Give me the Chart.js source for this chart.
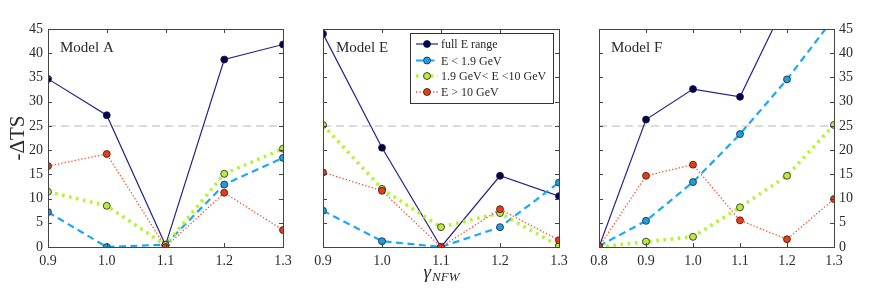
<!DOCTYPE html>
<html>
<head>
<meta charset="utf-8">
<script src="https://cdn.jsdelivr.net/npm/chart.js@4.4.1/dist/chart.umd.min.js"></script>
<style>
  body { margin: 0; background: #fff; }
  #wrap { position: relative; width: 872px; height: 291px; }
  #wrap canvas { position: absolute; left: 0; top: 0; }
</style>
</head>
<body>
<div id="wrap">
  <canvas id="chartA" width="872" height="291"></canvas>
  <canvas id="chartE" width="872" height="291"></canvas>
  <canvas id="chartF" width="872" height="291"></canvas>
</div>
<script>
// gamma_NFW values
const gammaAE = [0.9, 1.0, 1.1, 1.2, 1.3];
const gammaF = [0.8, 0.9, 1.0, 1.1, 1.2, 1.3];

// -ΔTS, Model A
const aFull = [34.7, 27.2, 0.4, 38.7, 41.8];
const aLow  = [7.2, 0.0, 0.5, 12.9, 18.4];
const aMid  = [11.4, 8.5, 0.4, 15.1, 20.3];
const aHigh = [16.7, 19.2, 0.0, 11.2, 3.5];

// Model E
const eFull = [44.0, 20.5, 0.0, 14.7, 10.5];
const eLow  = [7.5, 1.2, 0.0, 4.1, 13.3];
const eMid  = [25.2, 12.0, 4.1, 7.0, 0.2];
const eHigh = [15.4, 11.6, 0.0, 7.8, 1.4];

// Model F (last full points are above the plot)
const fFull = [0.0, 26.3, 32.6, 31.0, 51.0, 62.0];
const fLow  = [0.2, 5.4, 13.4, 23.3, 34.6, 47.3];
const fMid  = [0.0, 1.1, 2.1, 8.2, 14.7, 25.2];
const fHigh = [0.0, 14.7, 17.0, 5.5, 1.6, 9.9];

const yTicks = [0, 5, 10, 15, 20, 25, 30, 35, 40, 45];
const threshold = 25;

const seriesNames = ['full E range', 'E < 1.9 GeV', '1.9 GeV< E <10 GeV', 'E > 10 GeV'];

const FONT = '"Liberation Serif", "DejaVu Serif", serif';
const TXT = '#2a2a2a';

const styles = [
  { line: 'rgb(35,35,140)', fill: '#000058', width: 1.2, dash: [], order: 4 },
  { line: '#1aaaf5', fill: '#1e9de0', width: 2.2, dash: [7, 4.5], order: 3 },
  { line: '#b4f52a', fill: '#b8ec3c', width: 3.6, dash: [2.6, 4.6], order: 2 },
  { line: '#ff4a28', fill: '#ee3a10', width: 1.3, dash: [1.3, 2.1], order: 1 }
];

function makeSets(xs, lists) {
  return lists.map((vals, i) => ({
    label: seriesNames[i],
    data: vals.map((v, j) => ({ x: xs[j], y: v })),
    borderColor: styles[i].line,
    borderWidth: styles[i].width,
    borderDash: styles[i].dash,
    backgroundColor: styles[i].fill,
    pointBackgroundColor: styles[i].fill,
    pointBorderColor: '#222',
    pointBorderWidth: 0.8,
    pointRadius: 3.5,
    tension: 0,
    clip: 0,
    order: styles[i].order
  }));
}

// frame, inward ticks, 25 line, model label
const framePlugin = {
  id: 'frame',
  beforeDatasetsDraw(chart) {
    const { ctx, chartArea: a, scales } = chart;
    const y = scales.y.getPixelForValue(threshold);
    ctx.save();
    ctx.strokeStyle = '#cfcfcf';
    ctx.lineWidth = 1.5;
    ctx.setLineDash([8, 5]);
    ctx.beginPath();
    ctx.moveTo(a.left, y);
    ctx.lineTo(a.right, y);
    ctx.stroke();
    ctx.restore();
  },
  afterDatasetsDraw(chart, args, opts) {
    const { ctx, chartArea: a, scales } = chart;
    ctx.save();
    ctx.strokeStyle = '#444';
    ctx.lineWidth = 1;
    ctx.setLineDash([]);
    ctx.strokeRect(Math.round(a.left) + 0.5, Math.round(a.top) + 0.5,
      Math.round(a.right - a.left), Math.round(a.bottom - a.top));
    ctx.beginPath();
    scales.y.ticks.forEach(t => {
      const p = Math.round(scales.y.getPixelForValue(t.value)) + 0.5;
      ctx.moveTo(a.left, p); ctx.lineTo(a.left + 4, p);
      ctx.moveTo(a.right, p); ctx.lineTo(a.right - 4, p);
    });
    scales.x.ticks.forEach(t => {
      const p = Math.round(scales.x.getPixelForValue(t.value)) + 0.5;
      ctx.moveTo(p, a.bottom); ctx.lineTo(p, a.bottom - 4);
      ctx.moveTo(p, a.top); ctx.lineTo(p, a.top + 4);
    });
    ctx.stroke();
    ctx.fillStyle = TXT;
    ctx.font = '15px ' + FONT;
    ctx.textBaseline = 'alphabetic';
    ctx.fillText(opts.model, a.left + opts.dx, 52);
    ctx.restore();
  }
};

// legend box and x title, only in panel E
const legendPlugin = {
  id: 'boxLegend',
  afterDraw(chart, args, opts) {
    if (!opts.show) return;
    const { ctx, chartArea: a } = chart;
    ctx.save();
    const bx = 410.5, by = 33.5, bw = 143, bh = 70;
    ctx.fillStyle = '#fff';
    ctx.fillRect(bx, by, bw, bh);
    ctx.strokeStyle = '#333';
    ctx.lineWidth = 1;
    ctx.strokeRect(bx, by, bw, bh);
    const rows = [44, 60.5, 76, 92];
    chart.data.datasets.forEach((ds, i) => {
      const y = rows[i];
      ctx.strokeStyle = ds.borderColor;
      ctx.lineWidth = ds.borderWidth;
      ctx.setLineDash(ds.borderDash);
      ctx.beginPath();
      ctx.moveTo(416, y); ctx.lineTo(438, y);
      ctx.stroke();
      ctx.setLineDash([]);
      ctx.beginPath();
      ctx.arc(427, y, 3.5, 0, Math.PI * 2);
      ctx.fillStyle = ds.pointBackgroundColor;
      ctx.fill();
      ctx.lineWidth = 0.8;
      ctx.strokeStyle = '#222';
      ctx.stroke();
      ctx.fillStyle = TXT;
      ctx.font = '12px ' + FONT;
      ctx.textBaseline = 'middle';
      ctx.fillText(ds.label, 441, y + 1);
    });
    // x title gamma_NFW
    const cx = (a.left + a.right) / 2;
    ctx.textBaseline = 'alphabetic';
    ctx.font = 'italic 19px ' + FONT;
    const gw = ctx.measureText('γ').width;
    ctx.font = 'italic 13px ' + FONT;
    const sw = ctx.measureText('NFW').width;
    const x0 = cx - (gw + sw) / 2;
    ctx.font = 'italic 19px ' + FONT;
    ctx.fillText('γ', x0, 278);
    ctx.font = 'italic 13px ' + FONT;
    ctx.fillText('NFW', x0 + gw + 1, 281);
    ctx.restore();
  }
};

function noPad(s) {
  s.paddingLeft = 0; s.paddingRight = 0; s.paddingTop = 0; s.paddingBottom = 0;
}

function makeChart(id, xs, lists, cfg) {
  return new Chart(document.getElementById(id), {
    type: 'line',
    data: { datasets: makeSets(xs, lists) },
    options: {
      responsive: false,
      animation: false,
      layout: { padding: { left: cfg.padLeft, right: cfg.padRight, top: 29, bottom: 0 } },
      plugins: {
        legend: { display: false },
        tooltip: { enabled: false },
        frame: { model: cfg.model, dx: cfg.dx },
        boxLegend: { show: !!cfg.legend }
      },
      scales: {
        x: {
          type: 'linear',
          min: xs[0], max: xs[xs.length - 1],
          grid: { display: false, drawTicks: false },
          border: { display: false },
          ticks: {
            stepSize: 0.1, padding: 6, color: TXT,
            font: { family: FONT, size: 14 },
            maxRotation: 0,
            callback: v => v.toFixed(1)
          },
          afterFit: s => { s.height = 44; noPad(s); }
        },
        y: {
          position: cfg.yPos,
          min: 0, max: 45,
          afterBuildTicks: s => { s.ticks = yTicks.map(v => ({ value: v })); },
          grid: { display: false, drawTicks: false },
          border: { display: false },
          ticks: {
            display: cfg.yLabels, padding: 5, color: TXT,
            font: { family: FONT, size: 14 }
          },
          title: {
            display: !!cfg.yTitle, text: '-ΔTS', color: TXT,
            font: { family: FONT, size: 21 }, padding: { top: 6, bottom: 0 }
          },
          afterFit: s => { s.width = cfg.yWidth; noPad(s); }
        }
      }
    },
    plugins: [framePlugin, legendPlugin]
  });
}

makeChart('chartA', gammaAE, [aFull, aLow, aMid, aHigh],
  { padLeft: 0, padRight: 872 - 283, yWidth: 48, yPos: 'left', yLabels: true, yTitle: true, model: 'Model A', dx: 12 });
makeChart('chartE', gammaAE, [eFull, eLow, eMid, eHigh],
  { padLeft: 290, padRight: 872 - 559, yWidth: 33, yPos: 'left', yLabels: false, model: 'Model E', dx: 13, legend: true });
makeChart('chartF', gammaF, [fFull, fLow, fMid, fHigh],
  { padLeft: 599, padRight: 0, yWidth: 38, yPos: 'right', yLabels: true, model: 'Model F', dx: 12 });
</script>
</body>
</html>
